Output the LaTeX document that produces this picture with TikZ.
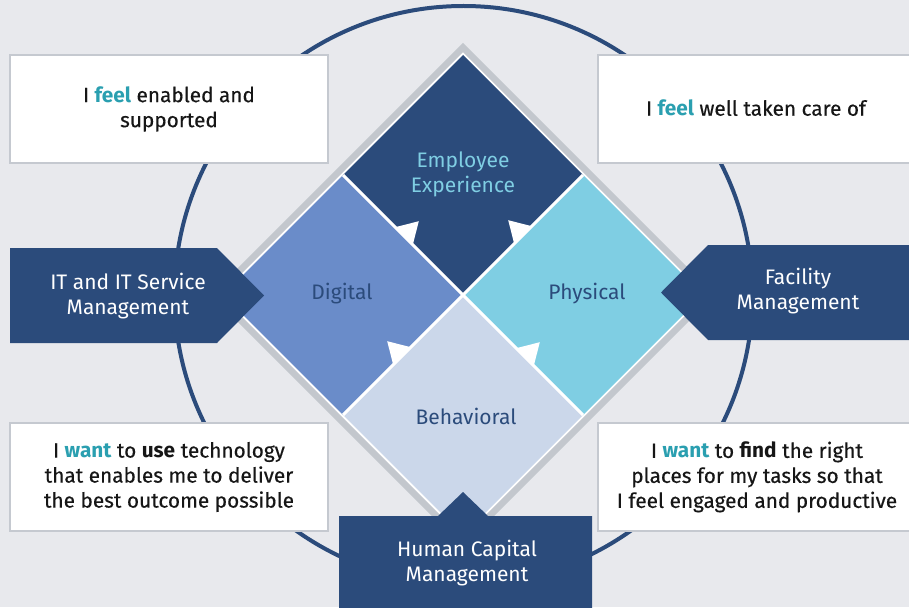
\documentclass[tikz,border=0pt]{standalone}
\usepackage{fontspec}
\setmainfont{Fira Sans}
\newfontfamily\bodyfont{Fira Sans}[FakeBold=0.35]
\definecolor{bg}{HTML}{E8E9ED}
\definecolor{navy}{HTML}{2B4B7B}
\definecolor{digi}{HTML}{6A8CC9}
\definecolor{phys}{HTML}{7FCEE3}
\definecolor{behav}{HTML}{CBD7EA}
\definecolor{band}{HTML}{C3C7CD}
\definecolor{boxline}{HTML}{C5C9D0}
\definecolor{teal}{HTML}{2A9FB0}
\definecolor{ink}{HTML}{161616}
\newcommand{\hl}[1]{{\normalfont\bfseries\fontsize{20.8}{25}\selectfont\textcolor{teal}{#1}}}
\newcommand{\bw}[1]{{\normalfont\bfseries\fontsize{20.8}{25}\selectfont #1}}
\tikzset{
  whitebox/.style={fill=white,draw=boxline,line width=2pt},
  navybox/.style={fill=navy},
  bodytext/.style={text=ink,align=center,font=\bodyfont\fontsize{20.8}{25}\selectfont},
  navytext/.style={text=white,align=center,font=\fontsize{21}{25}\selectfont},
  dialabel/.style={align=center,font=\fontsize{21}{25}\selectfont},
  tri/.style={fill=white}
}
\begin{document}
\begin{tikzpicture}[x=1pt,y=-1pt]
\useasboundingbox (0,0) rectangle (909,607);
\fill[bg] (0,0) rectangle (909,607);
% circle
\draw[navy,line width=4pt] (463.5,295) circle[radius=289];
% gray band and white base
\draw[band,fill=white,line width=6.4pt] (463,47.5) -- (710.5,295) -- (463,542.5) -- (215.5,295) -- cycle;
% colored diamonds
\fill[navy]  (463,55) -- (583,175) -- (463,295) -- (343,175) -- cycle;
\fill[digi]  (343,175) -- (463,295) -- (343,415) -- (223,295) -- cycle;
\fill[phys]  (583,175) -- (703,295) -- (583,415) -- (463,295) -- cycle;
\fill[behav] (463,295) -- (583,415) -- (463,535) -- (343,415) -- cycle;
% white separators
\coordinate (c) at (463,295);
\coordinate (tl) at (343,175);
\coordinate (tr) at (583,175);
\coordinate (bl) at (343,415);
\coordinate (br) at (583,415);
\draw[white,line width=3pt] (tl) -- (br);
\draw[white,line width=3pt] (tr) -- (bl);
% triangles
\fill[tri] (395.2,227.2) -- (412.8,244.8) -- (418.8,221.2) -- cycle;
\fill[tri] (531.8,226.2) -- (514.2,243.8) -- (508.2,220.2) -- cycle;
\fill[tri] (410.8,347.2) -- (393.2,364.8) -- (387.2,341.2) -- cycle;
\fill[tri] (533.8,365.8) -- (516.2,348.2) -- (539.8,342.2) -- cycle;
% diamond labels
\node[dialabel,text=phys] (ee) at (463,174) {Employee\\Experience};
\node[dialabel,text=navy] (dg) at (342,294) {Digital};
\node[dialabel,text=navy] (ph) at (587,294) {Physical};
\node[dialabel,text=navy] (bh) at (466,416) {Behavioral};
% white boxes
\draw[whitebox] (10,55) rectangle (328,163);
\draw[whitebox] (598,55) rectangle (915,163);
\draw[whitebox] (10,423) rectangle (328,531);
\draw[whitebox] (598,423) rectangle (915,531);
\node[bodytext] (t1) at (169,109) {I \hl{feel} enabled and\\supported};
\node[bodytext] (t2) at (756,108) {I \hl{feel} well taken care of};
\node[bodytext] (t3) at (169,477) {I \hl{want} to \bw{use} technology\\that enables me to deliver\\the best outcome possible};
\node[bodytext] (t4) at (757,477) {I \hl{want} to \bw{find} the right\\places for my tasks so that\\I feel engaged and productive};
% navy arrow boxes
\fill[navybox] (10,248) -- (217,248) -- (264,295.5) -- (217,343) -- (10,343) -- cycle;
\fill[navybox] (912,245) -- (708,245) -- (661,292.5) -- (708,340) -- (912,340) -- cycle;
\fill[navybox] (339,610) -- (339,516) -- (438,516) -- (463,492) -- (488,516) -- (592,516) -- (592,610) -- cycle;
\node[navytext] (it) at (128,296) {IT and IT Service\\Management};
\node[navytext] (fm) at (798,291) {Facility\\Management};
\node[navytext] (hc) at (467,563) {Human Capital\\Management};
\end{tikzpicture}
\end{document}
